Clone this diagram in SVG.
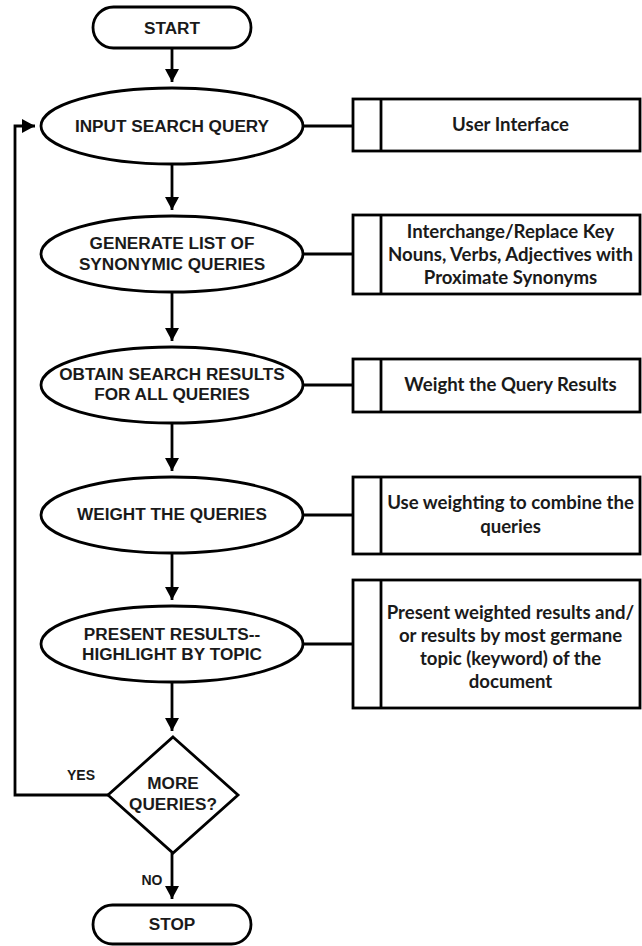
<svg xmlns="http://www.w3.org/2000/svg" width="642" height="946" viewBox="0 0 642 946">
  <defs>
    <marker id="arrow" viewBox="0 0 13 14" refX="13" refY="7" markerWidth="13" markerHeight="14" markerUnits="userSpaceOnUse" orient="auto">
      <path d="M0,0 L13,7 L0,14 Z" fill="#000"/>
    </marker>
  </defs>
  <style>
    .shape { fill: #fff; stroke: #000; stroke-width: 2.8; }
    .line { fill: none; stroke: #000; stroke-width: 2.8; }
    .flow { font-family: "Liberation Sans", Arial, sans-serif; font-weight: bold; font-size: 17.2px; fill: #1a1a1a; text-anchor: middle; }
    .note { font-family: Lato, "Open Sans", sans-serif; font-weight: bold; font-size: 18.6px; fill: #1a1a1a; text-anchor: middle; }
    .lbl { font-family: "Liberation Sans", Arial, sans-serif; font-weight: bold; font-size: 14px; fill: #1a1a1a; text-anchor: middle; }
  </style>
  <rect width="642" height="946" fill="#fff"/>

  <!-- connectors -->
  <g id="connectors">
    <line class="line" x1="172" y1="48" x2="172" y2="82" marker-end="url(#arrow)"/>
    <line class="line" x1="172" y1="164" x2="172" y2="210" marker-end="url(#arrow)"/>
    <line class="line" x1="172" y1="292" x2="172" y2="341" marker-end="url(#arrow)"/>
    <line class="line" x1="172" y1="423" x2="172" y2="471" marker-end="url(#arrow)"/>
    <line class="line" x1="172" y1="553" x2="172" y2="600" marker-end="url(#arrow)"/>
    <line class="line" x1="172" y1="682" x2="172" y2="731" marker-end="url(#arrow)"/>
    <line class="line" x1="172" y1="853" x2="172" y2="899" marker-end="url(#arrow)"/>
    <polyline class="line" points="108,795 15,795 15,126 35,126" marker-end="url(#arrow)"/>
    <!-- links to the side notes -->
    <line class="line" x1="303" y1="126" x2="353" y2="126"/>
    <line class="line" x1="303" y1="254" x2="353" y2="254"/>
    <line class="line" x1="303" y1="385" x2="353" y2="385"/>
    <line class="line" x1="303" y1="515" x2="353" y2="515"/>
    <line class="line" x1="303" y1="644" x2="353" y2="644"/>
  </g>

  <g id="start">
    <rect class="shape" x="93" y="7" width="158" height="41" rx="20.5"/>
    <text class="flow" x="172" y="33.5">START</text>
  </g>

  <g id="input-query">
    <ellipse class="shape" cx="172" cy="126" rx="131" ry="38"/>
    <text class="flow" x="172" y="132">INPUT SEARCH QUERY</text>
  </g>

  <g id="generate-list">
    <ellipse class="shape" cx="172" cy="254" rx="131" ry="38"/>
    <text class="flow" x="172" y="249">GENERATE LIST OF</text>
    <text class="flow" x="172" y="270">SYNONYMIC QUERIES</text>
  </g>

  <g id="obtain-results">
    <ellipse class="shape" cx="172" cy="385" rx="131" ry="38"/>
    <text class="flow" x="172" y="380">OBTAIN SEARCH RESULTS</text>
    <text class="flow" x="172" y="400">FOR ALL QUERIES</text>
  </g>

  <g id="weight-queries">
    <ellipse class="shape" cx="172" cy="515" rx="131" ry="38"/>
    <text class="flow" x="172" y="520">WEIGHT THE QUERIES</text>
  </g>

  <g id="present-results">
    <ellipse class="shape" cx="172" cy="644" rx="131" ry="38"/>
    <text class="flow" x="172" y="640">PRESENT RESULTS--</text>
    <text class="flow" x="172" y="660">HIGHLIGHT BY TOPIC</text>
  </g>

  <g id="more-queries">
    <polygon class="shape" points="173,737 238,795 173,853 108,795"/>
    <text class="flow" x="173" y="789">MORE</text>
    <text class="flow" x="173" y="810">QUERIES?</text>
  </g>

  <g id="stop">
    <rect class="shape" x="93" y="905" width="158" height="39" rx="19.5"/>
    <text class="flow" x="172" y="930">STOP</text>
  </g>

  <g id="labels">
    <text class="lbl" x="81" y="780">YES</text>
    <text class="lbl" x="152" y="885">NO</text>
  </g>

  <g id="note-ui">
    <rect class="shape" x="353" y="99" width="287" height="52"/>
    <line class="line" x1="381" y1="99" x2="381" y2="151"/>
    <text class="note" x="510.5" y="131">User Interface</text>
  </g>

  <g id="note-synonyms">
    <rect class="shape" x="353" y="215" width="287" height="79"/>
    <line class="line" x1="381" y1="215" x2="381" y2="294"/>
    <text class="note" x="510.5" y="238">Interchange/Replace Key</text>
    <text class="note" x="510.5" y="261">Nouns, Verbs, Adjectives with</text>
    <text class="note" x="510.5" y="284">Proximate Synonyms</text>
  </g>

  <g id="note-weight-results">
    <rect class="shape" x="353" y="359" width="287" height="53"/>
    <line class="line" x1="381" y1="359" x2="381" y2="412"/>
    <text class="note" x="510.5" y="391">Weight the Query Results</text>
  </g>

  <g id="note-combine">
    <rect class="shape" x="353" y="477" width="287" height="77"/>
    <line class="line" x1="381" y1="477" x2="381" y2="554"/>
    <text class="note" x="510.5" y="509">Use weighting to combine the</text>
    <text class="note" x="510.5" y="533">queries</text>
  </g>

  <g id="note-present">
    <rect class="shape" x="353" y="580" width="287" height="128"/>
    <line class="line" x1="381" y1="580" x2="381" y2="708"/>
    <text class="note" x="510.5" y="619">Present weighted results and/</text>
    <text class="note" x="510.5" y="642">or results by most germane</text>
    <text class="note" x="510.5" y="665">topic (keyword) of the</text>
    <text class="note" x="510.5" y="688">document</text>
  </g>
</svg>
